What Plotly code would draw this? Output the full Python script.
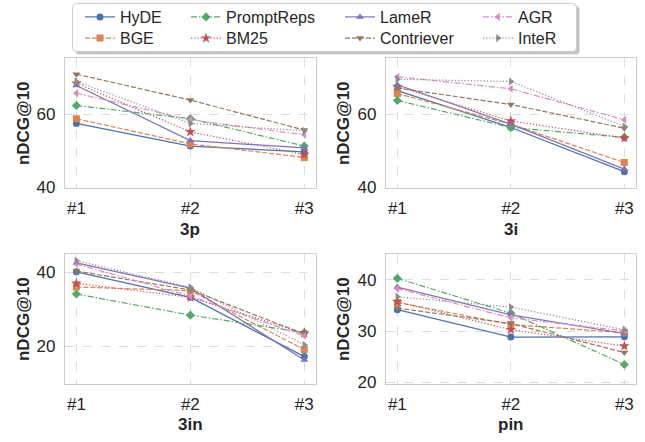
import plotly.graph_objects as go

methods = ["HyDE", "BGE", "PromptReps", "BM25", "LameR", "Contriever", "AGR", "InteR"]
colors = ["#4C72B0", "#DD8452", "#55A868", "#C44E52", "#8172B3", "#937860", "#DA8BC3", "#8C8C8C"]
symbols = ["circle", "square", "diamond", "star", "triangle-up", "triangle-down", "triangle-left", "triangle-right"]
dashes = ["solid", "5px,2px", "6px,2px,1.5px,2px", "1.2px,2px", "solid", "5px,2px", "6px,2px,1.5px,2px", "1.2px,2px"]

steps = ["#1", "#2", "#3"]
panels = ["3p", "3i", "3in", "pin"]

scores = {
    "3p": {
        "HyDE": [57.5, 51.3, 49.7],
        "BGE": [58.8, 51.9, 48.2],
        "PromptReps": [62.4, 58.8, 51.3],
        "BM25": [68.5, 55.2, 49.0],
        "LameR": [67.9, 52.8, 50.8],
        "Contriever": [71.0, 63.9, 55.7],
        "AGR": [65.8, 58.5, 54.4],
        "InteR": [69.0, 57.5, 55.5],
    },
    "3i": {
        "HyDE": [66.5, 56.4, 44.3],
        "BGE": [65.7, 57.3, 46.8],
        "PromptReps": [63.8, 56.4, 53.7],
        "BM25": [67.6, 58.2, 53.5],
        "LameR": [68.1, 57.3, 45.0],
        "Contriever": [67.2, 62.7, 56.2],
        "AGR": [70.3, 67.0, 58.5],
        "InteR": [69.6, 69.0, 56.7],
    },
    "3in": {
        "HyDE": [40.1, 33.2, 17.2],
        "BGE": [36.0, 35.0, 19.1],
        "PromptReps": [34.1, 28.4, 23.7],
        "BM25": [37.0, 33.2, 23.5],
        "LameR": [42.5, 35.7, 16.3],
        "Contriever": [40.3, 35.2, 23.3],
        "AGR": [42.2, 33.5, 22.8],
        "InteR": [43.1, 35.9, 20.4],
    },
    "pin": {
        "HyDE": [34.2, 28.85, 28.9],
        "BGE": [35.6, 31.3, 29.7],
        "PromptReps": [40.3, 33.5, 23.5],
        "BM25": [35.75, 30.3, 27.1],
        "LameR": [38.6, 33.2, 29.55],
        "Contriever": [34.5, 31.5, 25.85],
        "AGR": [38.3, 32.6, 30.05],
        "InteR": [36.7, 34.7, 30.3],
    },
}

y_ranges = {"3p": [39.8, 75.4], "3i": [39.8, 75.4], "3in": [9.8, 44.9], "pin": [19.7, 45.05]}
y_dticks = {"3p": 20, "3i": 20, "3in": 20, "pin": 10}

W, H = 645, 442
x_doms = [[65 / W, 315.7 / W], [386 / W, 635.7 / W]]
y_doms = [[(H - 192) / H, (H - 59.3) / H], [(H - 392) / H, (H - 259.3) / H]]

FONT = "Liberation Sans, Arial, sans-serif"
TXT = "#262626"

fig = go.Figure()

legend_names = ["legend%d" % i for i in range(2, 10)]
for pi, p in enumerate(panels):
    ax = "" if pi == 0 else str(pi + 1)
    for mi, m in enumerate(methods):
        fig.add_trace(go.Scatter(
            x=steps, y=scores[p][m], name=m, mode="lines+markers",
            line=dict(color=colors[mi], width=1.2, dash=dashes[mi]),
            marker=dict(symbol=symbols[mi], size=8 if symbols[mi] == "star" else 7, color=colors[mi], line=dict(width=0)),
            xaxis="x" + ax, yaxis="y" + ax,
            showlegend=(pi == 0), legend=legend_names[mi],
        ))

layout = dict(
    width=W, height=H, margin=dict(l=0, r=0, t=0, b=0),
    paper_bgcolor="white", plot_bgcolor="white",
    font=dict(family=FONT, size=17, color=TXT),
)
for pi, p in enumerate(panels):
    r, c = divmod(pi, 2)
    ax = "" if pi == 0 else str(pi + 1)
    layout["xaxis" + ax] = dict(
        domain=x_doms[c], anchor="y" + ax, type="category", range=[-0.1, 2.1],
        showline=True, mirror=True, linecolor="#cccccc", linewidth=1.25,
        showgrid=True, gridcolor="#dddddd", griddash="dash", gridwidth=1,
        ticks="", ticklabelstandoff=4, tickfont=dict(size=17, color=TXT), zeroline=False,
    )
    layout["yaxis" + ax] = dict(
        domain=y_doms[r], anchor="x" + ax, range=y_ranges[p], dtick=y_dticks[p], tick0=0,
        showline=True, mirror=True, linecolor="#cccccc", linewidth=1.25,
        showgrid=True, gridcolor="#dddddd", griddash="dash", gridwidth=1,
        ticks="", ticklabelstandoff=5, tickfont=dict(size=17, color=TXT), zeroline=False,
    )

col_text_x = [127, 233, 387, 525]
row_y = [17, 39]
for mi, ln in enumerate(legend_names):
    c, r = divmod(mi, 2)
    layout[ln] = dict(
        x=(col_text_x[c] - 47) / W, y=1 - row_y[r] / H, xanchor="left", yanchor="middle",
        orientation="v", bgcolor="rgba(0,0,0,0)", borderwidth=0,
        font=dict(family=FONT, size=16, color=TXT), tracegroupgap=0,
    )

fig.update_layout(**layout)


def rounded_path(x0, y0, x1, y1, rad):
    # pixel coords from top-left -> paper coords
    def P(x, y):
        return "%.5f,%.5f" % (x / W, 1 - y / H)
    return ("M" + P(x0 + rad, y0) + " L" + P(x1 - rad, y0) + " Q" + P(x1, y0) + " " + P(x1, y0 + rad) +
            " L" + P(x1, y1 - rad) + " Q" + P(x1, y1) + " " + P(x1 - rad, y1) +
            " L" + P(x0 + rad, y1) + " Q" + P(x0, y1) + " " + P(x0, y1 - rad) +
            " L" + P(x0, y0 + rad) + " Q" + P(x0, y0) + " " + P(x0 + rad, y0) + " Z")


fig.add_shape(type="path", xref="paper", yref="paper", path=rounded_path(75.5, 6.5, 579.5, 55.5, 4),
              fillcolor="rgba(120,120,120,0.45)", line=dict(width=0), layer="below")
fig.add_shape(type="path", xref="paper", yref="paper", path=rounded_path(72.5, 3.5, 576.5, 52.5, 4),
              fillcolor="white", line=dict(color="#cccccc", width=1), layer="below")

for pi, p in enumerate(panels):
    r, c = divmod(pi, 2)
    xc = (x_doms[c][0] + x_doms[c][1]) / 2
    yt = [234, 433][r]
    fig.add_annotation(text="<b>%s</b>" % p, xref="paper", yref="paper", x=xc, y=1 - yt / H,
                       showarrow=False, xanchor="center", yanchor="middle",
                       font=dict(family=FONT, size=17, color=TXT))
    yc = (y_doms[r][0] + y_doms[r][1]) / 2
    xt = [23, 343][c]
    fig.add_annotation(text="<b>nDCG@10</b>", xref="paper", yref="paper", x=xt / W, y=yc,
                       showarrow=False, textangle=-90, xanchor="center", yanchor="middle",
                       font=dict(family=FONT, size=17, color=TXT))

fig.write_html("out.html", config={"displayModeBar": False},
               post_script="document.body.style.margin='0';document.body.style.overflow='hidden';")
